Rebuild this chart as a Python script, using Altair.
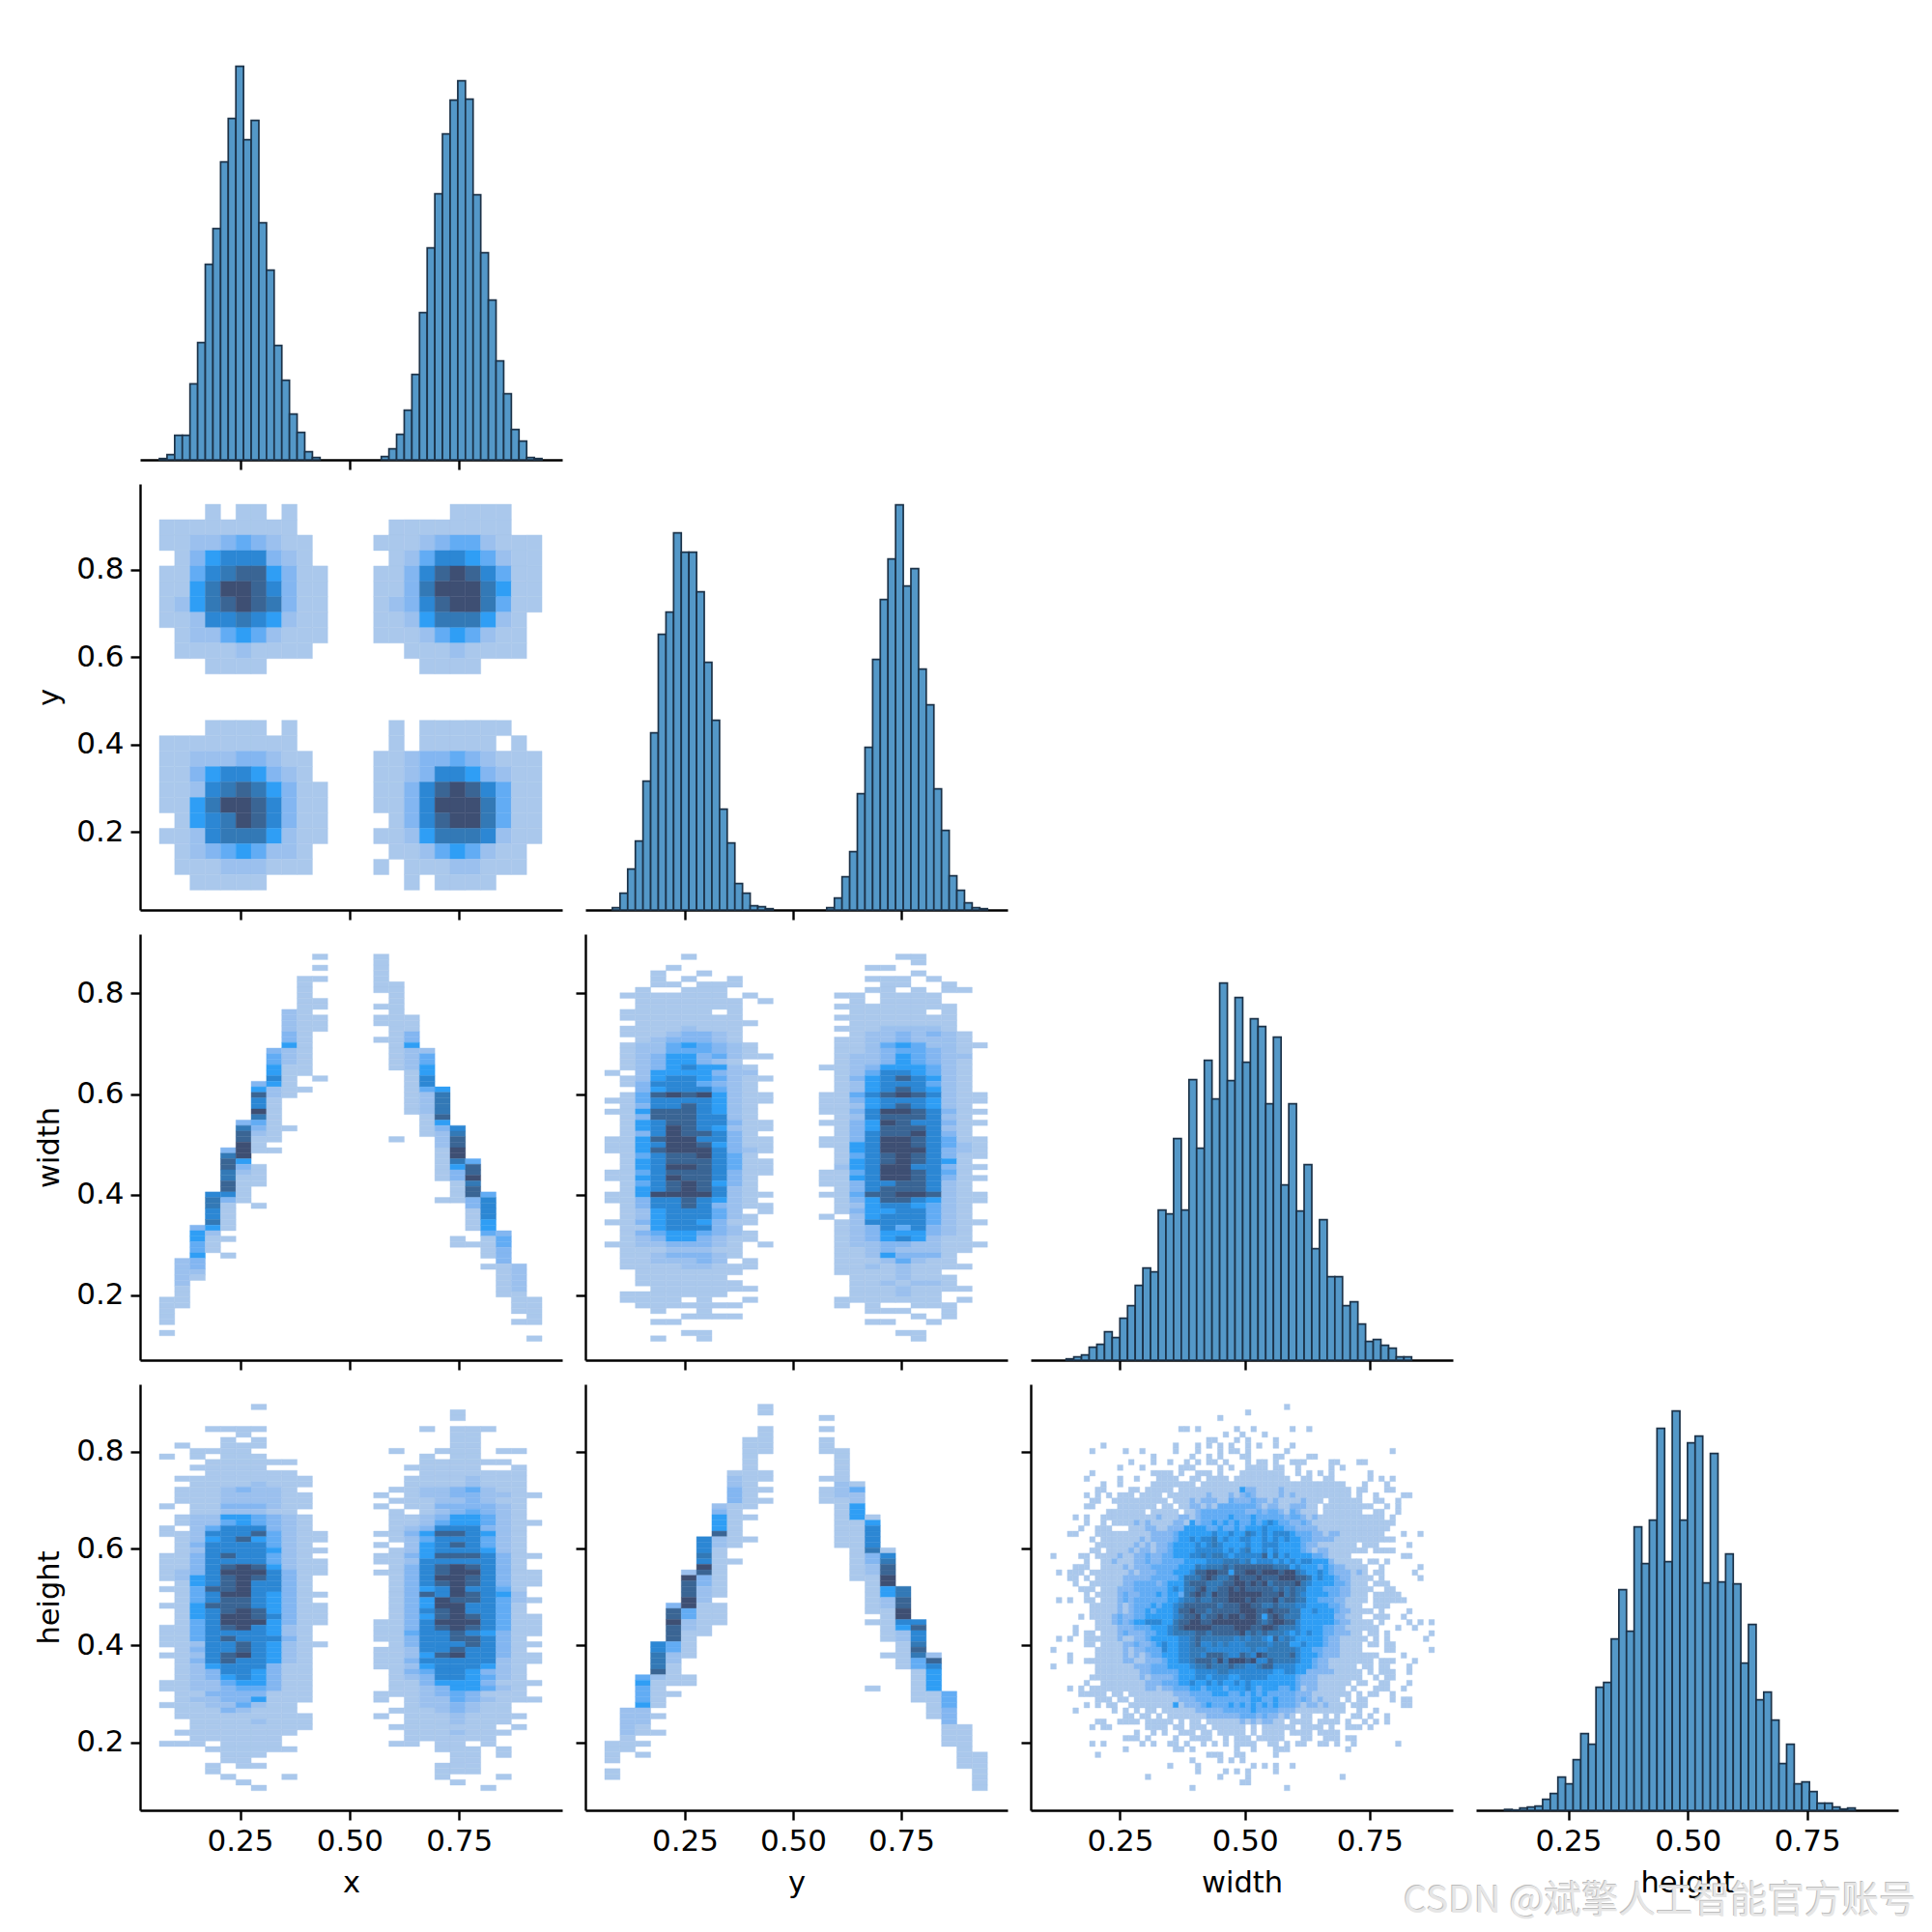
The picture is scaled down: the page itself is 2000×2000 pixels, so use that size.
import altair as alt
import pandas as pd

# ---- histogram heights (diagonal panels) ----
hist_x = [4,16,76,76,236,364,607,718,925,1060,1222,994,1054,736,589,355,247,142,85,25,7,
          0,0,0,0,0,0,0,0,
          10,34,79,154,265,457,658,826,1012,1117,1177,1120,823,643,496,307,205,94,58,7,4]
hist_y = [0,7,52,127,214,400,550,856,925,1171,1111,1111,988,769,589,313,208,82,52,13,10,4,
          0,0,0,0,0,0,0,
          7,37,103,181,361,505,778,964,1090,1258,1006,1060,748,637,376,247,106,61,22,7,4]
hist_w = [4,10,16,40,49,88,70,130,169,232,286,274,466,454,688,466,871,658,931,811,1171,868,1126,
          925,1060,1036,796,1003,544,796,463,607,346,436,259,259,169,181,112,58,64,46,37,10,10]
hist_h = [3,1,7,10,13,34,52,103,82,157,238,205,382,397,532,685,556,880,766,901,1186,772,1240,
          901,1141,1162,706,1108,709,796,703,457,577,343,367,280,145,205,82,88,58,22,22,10,4,7]

# ---- heat grid y vs x (25 x 25) ----
grid_yx = [
"00010110100"+"000"+"00000111100",
"11111111100"+"000"+"01111111100",
"1122343211"+"0000"+"11123442111",
"0135666321"+"0000"+"01246654211",
"11467885311"+"000"+"11368986411",
"11579986311"+"000"+"11379997511",
"12578987311"+"000"+"12368997411",
"11266765211"+"000"+"11257775210",
"01224542111"+"000"+"11124542110",
"01111211110"+"000"+"00111211110",
"00011110000"+"000"+"00011110000",
"0"*25,"0"*25,"0"*25,
"00011110100"+"000"+"01011111100",
"11111111100"+"000"+"01011111010",
"11222332110"+"000"+"11233432111",
"11356653210"+"000"+"11236653211",
"11267875311"+"000"+"11368986411",
"11579986311"+"000"+"11369997411",
"01567986311"+"000"+"01368997411",
"11267775211"+"000"+"11257776211",
"01234542210"+"000"+"01124542110",
"01112221110"+"000"+"10111221110",
"00111110000"+"000"+"00101111000",
]

# ---- heat grids with narrow rows: (start row, levels) per x bin ----
runs_wx = {
0:[(62,"11111"),(68,"1")],
1:[(55,"222221111")],
2:[(49,"3554453321")],
3:[(43,"67766752111")],
4:[(35,"378877886311111"),(51,"1"),(54,"1")],
5:[(30,"378899953211111")],
6:[(23,"3586697432111"),(38,"1111"),(45,"1")],
7:[(17,"34455652211111111"),(35,"1")],
8:[(10,"2222335222111111"),(31,"1")],
9:[(4,"111111111111111111"),(24,"1")],
10:[(0,"1"),(2,"1"),(4,"1"),(8,"11"),(11,"111"),(22,"1")],
14:[(0,"1111111"),(9,"1"),(11,"11"),(15,"1")],
15:[(5,"1111111111111111"),(33,"1")],
16:[(11,"111335222211111111")],
17:[(17,"2445566422221111")],
18:[(24,"57777853222111111"),(44,"1")],
19:[(31,"67889975331111"),(51,"11")],
20:[(37,"4889788331111"),(52,"1")],
21:[(43,"466665541111"),(56,"1")],
22:[(50,"344333111111")],
23:[(56,"222221111"),(66,"1")],
24:[(62,"11111"),(69,"1")],
}
runs_hy = {
0:[(61,"1111"),(66,"11")],
1:[(55,"22222111")],
2:[(49,"45444522211"),(61,"1"),(63,"1")],
3:[(43,"667778211111"),(56,"1"),(59,"1")],
4:[(36,"388988844221111"),(52,"1")],
5:[(30,"2988899442211111"),(49,"11")],
6:[(24,"666769833222111111")],
7:[(18,"23555822111111111"),(36,"1111")],
8:[(12,"12233311111111"),(28,"1")],
9:[(6,"1111111111111"),(20,"1"),(24,"1")],
10:[(0,"11"),(4,"11111"),(12,"11"),(15,"1"),(17,"1")],
14:[(2,"1"),(4,"1"),(6,"111"),(13,"1"),(15,"111")],
15:[(8,"111111222111111111")],
16:[(14,"142255511111111111")],
17:[(20,"156666733221111111"),(39,"1"),(51,"1")],
18:[(26,"16788995522111111"),(45,"1")],
19:[(33,"778899652211111")],
20:[(39,"686678744111111")],
21:[(45,"286555511111")],
22:[(52,"4443331111")],
23:[(58,"11111111")],
24:[(63,"1111111")],
}

Z = "000"
grid_wy = [
"00000100000"+Z+"00000110000","00000000000"+Z+"00000010000","00001000000"+Z+"00011000000",
"00010010000"+Z+"00000010000","00010100100"+Z+"00011101000","00011011100"+Z+"00001100100",
"00100111000"+Z+"00011010110","01111111010"+Z+"01101111000","00111111101"+Z+"00101111000",
"00111111100"+Z+"01111111100","01111110100"+Z+"00111110100","01111111100"+Z+"01111111100",
"00111111110"+Z+"00111111100","01111211100"+Z+"01112222100","01112332100"+Z+"00122323210",
"00123332100"+Z+"01122322210","01224543210"+Z+"01124542211","01224443210"+Z+"01123443210",
"01235534211"+Z+"01223543220","01235532100"+Z+"01223543210","01235655210"+Z+"11235554210",
"10255553220"+Z+"01246654210","01256654211"+Z+"01356875210","01367743210"+Z+"01256664210",
"00357764210"+Z+"01257875210","01489895211"+Z+"11478987211","11467765211"+Z+"11356775211",
"01377875210"+Z+"11257875210","11588875210"+Z+"11369986311","01388876210"+Z+"01268886210",
"01568876311"+Z+"11359876311","01579875211"+Z+"01358886210","01379886310"+Z+"01368896310",
"11589976311"+Z+"11369986411","11579985311"+Z+"11579987421","11589996321"+Z+"01579997321",
"01478896410"+Z+"01468986311","01578886411"+Z+"01568986510","01579986411"+Z+"02569976311",
"11478886311"+Z+"11479986410","11579887310"+Z+"11579986311","01478985310"+Z+"11367886210",
"01578986210"+Z+"01368886210","11599996211"+Z+"11488998211","11367865210"+Z+"01358865211",
"01367863211"+Z+"01256754210","01256764201"+Z+"01355764210","01256664210"+Z+"10256764210",
"11356753110"+Z+"01267764211","01156663200"+Z+"01236463210","01345543210"+Z+"01235553210",
"01235532110"+Z+"01235652110","11223332101"+Z+"01223322111","01112221100"+Z+"01123222110",
"01123332100"+Z+"01125333100","01122232010"+Z+"01112421100","01111221110"+Z+"01121211110",
"00111111100"+Z+"01111211000","00111111000"+Z+"00111211100","00111111100"+Z+"00112122100",
"00011111110"+Z+"00111211110","01111111000"+Z+"00111211000","01111010010"+Z+"01111111010",
"00111111100"+Z+"01010011100","00010010000"+Z+"00011100100","00000111100"+Z+"00000010100",
"00011000000"+Z+"00011001000","00000000000"+Z+"00000000000","00000110000"+Z+"00000110000",
"00010010000"+Z+"00000010000",
]
grid_hx = [
"00000010000"+Z+"00000000000","00000000000"+Z+"00000100000","00000000000"+Z+"00000100000",
"00000000000"+Z+"00000000000","00011110000"+Z+"00010111000","00000100000"+Z+"00000110000",
"00001010000"+Z+"00000110000","01001110000"+Z+"00000110000","00111100000"+Z+"01001110110",
"10101110000"+Z+"00010110000","00011111100"+Z+"00011111100","00111110000"+Z+"00111110010",
"00011111100"+Z+"00011111110","01111111110"+Z+"00111121110","00111121110"+Z+"00111121110",
"01112322100"+Z+"01122342110","01112222110"+Z+"10122332211","01112222110"+Z+"01112232110",
"10113332110"+Z+"10113333210","00112221100"+Z+"01012343210","01225543210"+Z+"01123554210",
"01224543210"+Z+"01124554211","10246663210"+Z+"01236663210","11266784211"+Z+"11358875210",
"01256854211"+Z+"01247764210","01367764210"+Z+"10257864210","01276775211"+Z+"01257775210",
"11378774210"+Z+"11358886311","11377764211"+Z+"11267776310","11368985211"+Z+"01368986310",
"12379996311"+Z+"11368997311","12578987310"+Z+"01369987311","01578977310"+Z+"01368987311",
"11488976310"+Z+"01357976410","01479975311"+Z+"01387986520","01468875310"+Z+"01359886421",
"11588875311"+Z+"01359976410","01578985311"+Z+"01368976410","01579986311"+Z+"01358986411",
"01479995311"+Z+"11369996411","11468975210"+Z+"11368986411","11467765210"+Z+"11467875311",
"11478776310"+Z+"11367887310","11266875211"+Z+"01367787311","01367875210"+Z+"11267876310",
"11278975210"+Z+"11258977311","01368775210"+Z+"11367776211","01257663110"+Z+"11256765210",
"01236653110"+Z+"01346653210","01235653110"+Z+"01236654210","11224553110"+Z+"01135553111",
"11223443110"+Z+"01123554210","01133331110"+Z+"11123431110","01223351110"+Z+"10122432111",
"11122421100"+Z+"00122321100","01113211100"+Z+"01112321100","01111111110"+Z+"10111211110",
"00111121110"+Z+"00111211100","00111111110"+Z+"01111111010","01111111100"+Z+"00111211100",
"00111111000"+Z+"00111111000","11101111000"+Z+"01101101000","00011111100"+Z+"00001110100",
"00001110000"+Z+"00000110100","00001100000"+Z+"00000110000","00010110000"+Z+"00001110000",
"00010000000"+Z+"00001110000","00001000100"+Z+"00001000100","00000100000"+Z+"00000100000",
"00000010000"+Z+"00000001000",
]

# ---- heat grid height vs width (70 x 70) ----
B = "0000000000"
grid_hw = [
B+" "+B+" "+B+" "+B+" 0010000000 "+B+" "+B,
B+" "+B+" "+B+" 0000010000 "+B+" "+B+" "+B,
B+" "+B+" "+B+" 1000000000 "+B+" "+B+" "+B,
B+" "+B+" "+B+" "+B+" "+B+" "+B+" "+B,
B+" "+B+" 0001101000 0001001000 0001001000 "+B+" "+B,
B+" "+B+" "+B+" 0100100010 "+B+" "+B+" "+B,
B+" "+B+" 0000000011 0001010000 1000000000 "+B+" "+B,
"0000000001 "+B+" 0010001010 1010010100 1001000000 "+B+" "+B,
"0000000100 0001001000 0010001000 1011010000 0010000000 "+B+" 0100000000",
B+" 0000000010 0000010010 1000110000 1100001100 "+B+" "+B,
B+" 0000100010 0100101011 0100010110 1001110000 1100011000 "+B,
B+" 0010001000 0001110000 1010011110 1100100000 1010000000 "+B,
"0000000100 0000000011 1101001110 1000111111 1100101010 1000000100 "+B,
"0000001000 0010010001 1110011011 1101111111 1110011001 1000000101 0100000000",
"0000000001 0010000011 1111110111 1111111111 1111111111 1110001000 1000000000",
"0000000011 0000110111 1101111111 1111522111 1211111111 1111011000 1100000000",
"0000001010 1011101111 0111111121 1121232111 1212111111 1111010010 0001100000",
"0000000110 0111111111 1011121222 1132223221 2111121110 1111110011 0010000000",
"0000001100 0011111110 1101122121 3344333212 2112221101 1111111100 1010000000",
"0000000000 1111111011 1110112333 3433322423 3213211101 1111110011 0010000000",
"0000101001 1111111112 1112212334 3454435343 4323321211 1111111111 0100000000",
"0000001001 0111121211 1122152345 4545445456 5342232111 1111111111 1100000000",
"0000010011 1000111221 1222555543 5445455565 5543222211 1111111111 1000000000",
"0001100011 1111111122 2235555556 5565576565 6665443221 2211111111 0001001000",
"0000000101 1111112122 2245565667 5655665565 6565544222 2111111111 1100000000",
"0000000011 1111121212 2355556567 6555565566 6555542211 1111101110 0000100000",
"0000000110 1111212212 2455556666 6565675565 6555542122 1111111011 1100000000",
"1000011011 1121122322 3455566767 7656666685 7565555432 1111000000 0001100000",
"0000001001 1211122322 3344555566 6777675666 5656566555 2111110110 1000000000",
"0000111001 1112122243 3445557677 7878888888 7775655545 3221111001 0000001000",
"0101110111 1111212223 3455568899 8858899899 9899765565 3222121011 0000010000",
"0001101011 1112222233 3445777898 7789888988 8999887565 5322111101 0000001000",
"0000100111 1112233332 4555788877 7889989897 8888976555 5432111011 1000000000",
"0000011101 1122233333 4565778977 8898988888 7878775554 3322111100 1100000000",
"0000001011 1123223445 4554789879 8899999988 8978765555 4322111011 1110000000",
"0101001101 1123233344 4556778778 8899989888 9788775533 3221111011 1111000000",
"0000000111 1121233454 5567888888 7888998877 8777665555 3321110011 1000000000",
"0000000111 1121233545 5568898878 8888999889 8887755655 5322111101 0000100000",
"0000010111 1232234555 5567889788 9899899858 9877755555 5221110011 1001000000",
"0000000011 1232355666 5578899889 9999999878 9988655555 5322111101 0000101010",
"0000100011 1122234455 5678999998 8889998899 8777655554 3221111110 0010010000",
"0000101101 1123222345 5677778878 8888978787 7765656554 3222110110 1000000010",
"0101001111 1121122355 5556678777 7776767765 8676555553 2211111010 1000000100",
"0000001101 1112232245 6556678667 6766677776 7775565553 2211110110 1100000000",
"1000000011 1112122344 6556677766 6666667667 7777655432 2211110000 1100000010",
"0001000011 1112121233 5556677688 8766876987 7778655542 2211111110 0001000000",
"0001001111 1112211222 4556678887 9799989668 7777655322 1111111101 1100010000",
"1000000011 1111122233 4555567787 7787766788 6666555322 1111101101 1000100000",
"0000000011 1111112233 3345556666 7766666666 5566552222 2111110101 1100100000",
"0000000111 1111112122 2245556656 6655666665 5555422211 1111110010 1100000000",
"0000001001 1111111222 3345565565 6556565555 5555322211 1111011001 1000100000",
"0001010111 1111111221 2234455455 5455565455 5435312211 1110100011 1001000000",
"0000011111 0110111111 1122234445 5544545454 4433222111 1111010110 0100000000",
"0000000011 1011011111 1112223333 4343445544 5333232121 1101011000 0101100000",
"0000001010 1100111111 1151222354 3454545454 5343212212 1110111000 0001100000",
"0000100000 0101010110 1111112222 2333435333 3222111111 1110010010 "+B,
B+" 0001101101 0111111122 2222343232 2121011001 0100110100 1000000000",
"0000000011 0011110111 1101011011 1111212122 1101111011 1101001010 1000000000",
"0000000101 1000000111 1011011101 1111101011 1111011110 1001110100 "+B,
B+" 0000010010 1001110110 1111101011 1101111011 1100000000 "+B,
B+" 0001110100 0010011110 0101110111 1100011001 1101100000 "+B,
"0000000101 0000001010 0110100101 0101111001 1010110011 0100100000 0010000000",
B+" 0001000000 0011010000 0001001000 1110000000 0001000000 "+B,
"0000000010 "+B+" 0000000011 1001100000 1000000000 "+B+" "+B,
B+" "+B+" 0000010000 1010100000 "+B+" "+B+" "+B,
B+" "+B+" 0100001000 0000001010 1001000000 "+B+" "+B,
B+" "+B+" 0000001000 0101010000 1000000000 "+B+" "+B,
B+" 0000000100 "+B+" 1000010000 "+B+" 0010000000 "+B,
B+" "+B+" "+B+" 0000110000 "+B+" "+B+" "+B,
B+" "+B+" 0000010000 "+B+" 0010000000 "+B+" "+B,
]

# level recalibration after comparing shades with the reference
hw_levels = str.maketrans("23", "34")
narrow_levels = str.maketrans("7", "6")

level_colors = ["#aac8ec","#9bc0ee","#83b6f1","#62acf4","#2f9ef5","#2c87d4","#3379b6","#3a6594","#3e4f73"]
levels = list("123456789")
x_ticks = [0.25, 0.50, 0.75]
y_ticks = [0.2, 0.4, 0.6, 0.8]
names = ["x", "y", "width", "height"]
col_dom = [[0.0216,0.9857],[0.0198,0.9959],[0.0711,0.9167],[0.0568,0.9405]]
row_dom = [None,[0.0211,0.9966],[0.0714,0.9177],[0.0599,0.9395]]
W, H = 437, 441
hist_ymax = 1323

def xaxis(col, row):
    last = row == 3
    return alt.Axis(values=x_ticks, format=".2f", labels=last, title=names[col] if last else None, titlePadding=13)

def yaxis(col, row):
    first = col == 0
    return alt.Axis(values=y_ticks, format=".1f", labels=first, title=names[row] if first else None, titlePadding=12)

def hist_panel(vals, i, start, bw):
    recs = [dict(a=start+k*bw, b=start+(k+1)*bw, h=v) for k, v in enumerate(vals) if v > 0]
    return alt.Chart(pd.DataFrame(recs)).mark_rect(fill="#5498c8", stroke="#1c3248", strokeWidth=1.7).encode(
        x=alt.X("a:Q", scale=alt.Scale(domain=col_dom[i], nice=False, zero=False), axis=xaxis(i, 3 if i == 3 else i)),
        x2="b:Q",
        y=alt.Y("h:Q", scale=alt.Scale(domain=[0, hist_ymax], nice=False), axis=None),
        y2=alt.Y2(datum=0),
    ).properties(width=W, height=H)

def heat_panel(cells, row, col, x0, dx, y0, dy):
    recs = [dict(a=x0+c*dx, b=x0+(c+1)*dx, t=y0-r*dy, u=y0-(r+1)*dy, lv=str(l)) for r, c, l in cells]
    sc = alt.Scale(domain=levels, range=level_colors)
    return alt.Chart(pd.DataFrame(recs)).mark_rect(strokeWidth=0.4).encode(
        x=alt.X("a:Q", scale=alt.Scale(domain=col_dom[col], nice=False, zero=False), axis=xaxis(col, row)),
        x2="b:Q",
        y=alt.Y("t:Q", scale=alt.Scale(domain=row_dom[row], nice=False, zero=False), axis=yaxis(col, row)),
        y2="u:Q",
        fill=alt.Fill("lv:N", scale=sc, legend=None),
        stroke=alt.Stroke("lv:N", scale=sc, legend=None),
    ).properties(width=W, height=H)

def from_rows(rows, table=None):
    out = []
    for r, s in enumerate(rows):
        s = s.replace(" ", "")
        if table:
            s = s.translate(table)
        for c, ch in enumerate(s):
            if ch != "0":
                out.append((r, c, ch))
    return out

def from_runs(runs):
    out = []
    for c, segs in runs.items():
        for start, digits in segs:
            for k, ch in enumerate(digits):
                out.append((start+k, c, ch))
    return out

def blank():
    return alt.Chart(pd.DataFrame({"a": [0]})).mark_point(opacity=0).properties(width=W, height=H)

p00 = hist_panel(hist_x, 0, 0.0657, 0.017475)
p11 = hist_panel(hist_y, 1, 0.0645, 0.0177)
p22 = hist_panel(hist_w, 2, 0.1420, 0.01538)
p33 = hist_panel(hist_h, 3, 0.1164, 0.01596)

p10 = heat_panel(from_rows(grid_yx), 1, 0, 0.0657, 0.03495, 0.9502, 0.03534)
p20 = heat_panel(from_runs(runs_wx), 2, 0, 0.0657, 0.03495, 0.8781, 0.01099)
p21 = heat_panel(from_rows(grid_wy, narrow_levels), 2, 1, 0.0645, 0.0354, 0.8781, 0.01099)
p30 = heat_panel(from_rows(grid_hx, narrow_levels), 3, 0, 0.0657, 0.03495, 0.8984, 0.0114)
p31 = heat_panel(from_runs(runs_hy), 3, 1, 0.0645, 0.0354, 0.8984, 0.0114)
p32 = heat_panel(from_rows(grid_hw, hw_levels), 3, 2, 0.1111, 0.01114, 0.8984, 0.0114)

watermark = "CSDN @斌擎人工智能官方账号"
wm_df = pd.DataFrame({"t": [watermark]})
wm_shadow = alt.Chart(wm_df).mark_text(align="left", baseline="middle", font="Noto Sans CJK SC",
    fontSize=38.5, color="#bdbdbd").encode(x=alt.value(-76), y=alt.value(534), text="t:N")
wm_main = alt.Chart(wm_df).mark_text(align="left", baseline="middle", font="Noto Sans CJK SC",
    fontSize=38.5, color="#e6e6e6").encode(x=alt.value(-75), y=alt.value(535), text="t:N")
p33w = alt.layer(p33, wm_shadow, wm_main).properties(width=W, height=H)

chart = alt.concat(
    p00, blank(), blank(), blank(),
    p10, p11, blank(), blank(),
    p20, p21, p22, blank(),
    p30, p31, p32, p33w,
    columns=4, spacing={"row": 25, "column": 24}, bounds="flush",
).properties(padding={"left": 28, "top": 27, "right": 0, "bottom": 0}).configure_view(stroke=None).configure_axis(
    grid=False, domainColor="black", domainWidth=2.4, tickColor="black", tickWidth=2.4, tickSize=10,
    labelFont="DejaVu Sans", titleFont="DejaVu Sans", labelFontSize=31, titleFontSize=30.5,
    titleFontWeight="normal", labelColor="black", titleColor="black", labelPadding=7,
    labelOverlap=False, labelFlush=False, zindex=1,
)

chart.save("out.html", embed_options={"renderer": "svg", "actions": False})
